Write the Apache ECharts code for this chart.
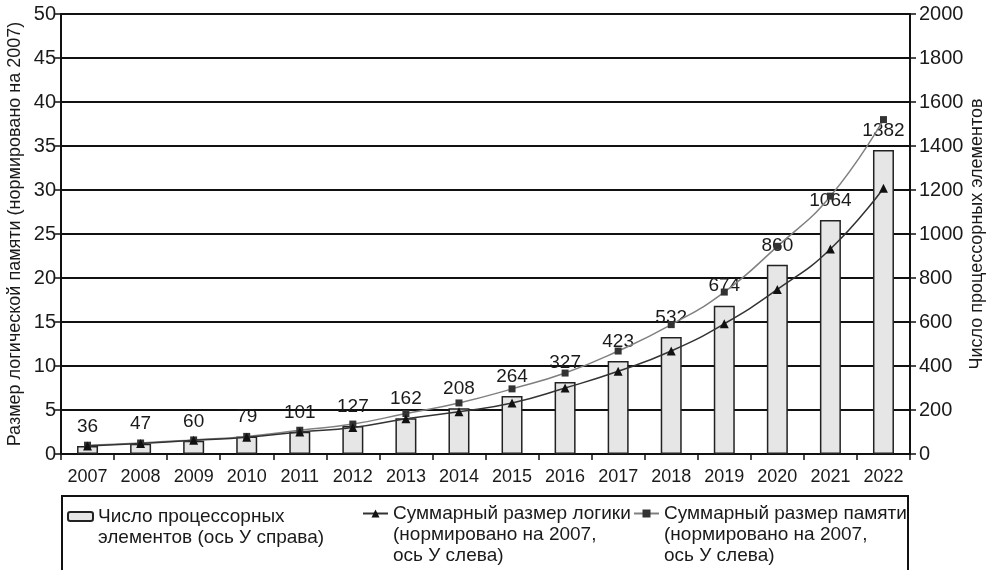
<!DOCTYPE html>
<html>
<head>
<meta charset="utf-8">
<script src="https://cdn.jsdelivr.net/npm/echarts@6/dist/echarts.min.js"></script>
<style>html,body{margin:0;padding:0;background:#fff}#c{width:991px;height:570px}</style>
</head>
<body>
<div id="c"></div>
<script>
const years = ['2007','2008','2009','2010','2011','2012','2013','2014','2015','2016','2017','2018','2019','2020','2021','2022'];
const processors = [36,47,60,79,101,127,162,208,264,327,423,532,674,860,1064,1382];
const logicSize = [0.9,1.2,1.55,1.9,2.5,3.0,4.0,4.8,5.8,7.5,9.4,11.7,14.8,18.7,23.3,30.2];
const memorySize = [1.0,1.25,1.6,2.0,2.7,3.4,4.6,5.8,7.4,9.2,11.7,14.7,18.4,23.6,29.3,38.0];
const leftTicks = [0,50,5];
const rightTicks = [0,2000,200];
const names = ['Число процессорных\nэлементов (ось У справа)','Суммарный размер логики\n(нормировано на 2007,\nось У слева)','Суммарный размер памяти\n(нормировано на 2007,\nось У слева)'];

const FONT = "'Liberation Sans', Arial, sans-serif";
const chart = echarts.init(document.getElementById('c'));
const legendText = {fontFamily: FONT, fontSize: 19, color: '#1a1a1a', lineHeight: 21};
// pad the text with leading blank lines so the legend icon sits level with the first text line
const alignFirstLine = name => '\n'.repeat(name.split('\n').length - 1) + name;
chart.setOption({
  animation: false,
  backgroundColor: '#fff',
  textStyle: {fontFamily: FONT},
  grid: {left: 61, right: 81, top: 14, bottom: 116, outerBoundsMode: 'none', containLabel: false},
  graphic: [{type: 'rect', shape: {x: 62, y: 496, width: 846, height: 100}, style: {fill: 'none', stroke: '#111', lineWidth: 2}, silent: true}],
  legend: [
    {data: [names[0]], left: 67, top: 485, itemWidth: 25, itemHeight: 9, itemGap: 5, textStyle: legendText, padding: 0, formatter: alignFirstLine},
    {data: [names[1]], left: 362, top: 461, itemWidth: 25, itemHeight: 10, textStyle: legendText, padding: 0, formatter: alignFirstLine},
    {data: [names[2]], left: 633, top: 461, itemWidth: 25, itemHeight: 10, textStyle: legendText, padding: 0, formatter: alignFirstLine}
  ],
  xAxis: {
    type: 'category', data: years,
    axisLine: {lineStyle: {color: '#111', width: 2}},
    axisTick: {show: true, length: 6, lineStyle: {color: '#111', width: 1.5}},
    axisLabel: {fontSize: 18, color: '#1a1a1a', margin: 14, fontFamily: FONT}
  },
  yAxis: [
    {
      type: 'value', min: leftTicks[0], max: leftTicks[1], interval: leftTicks[2],
      name: 'Размер логической памяти (нормировано на 2007)', nameLocation: 'middle', nameGap: 37, nameMoveOverlap: false,
      nameTextStyle: {fontSize: 18, color: '#1a1a1a', fontFamily: FONT},
      axisLine: {show: true, lineStyle: {color: '#111', width: 2}},
      axisTick: {show: true, length: 6, lineStyle: {color: '#111', width: 1.5}},
      axisLabel: {fontSize: 20, color: '#1a1a1a', margin: 5, fontFamily: FONT},
      splitLine: {show: true, lineStyle: {color: '#111', width: 2}}
    },
    {
      type: 'value', min: rightTicks[0], max: rightTicks[1], interval: rightTicks[2], position: 'right',
      name: 'Число процессорных элементов', nameLocation: 'middle', nameGap: 58, nameMoveOverlap: false,
      nameTextStyle: {fontSize: 18, color: '#1a1a1a', fontFamily: FONT},
      axisLine: {show: true, lineStyle: {color: '#111', width: 2}},
      axisTick: {show: true, length: 6, lineStyle: {color: '#111', width: 1.5}},
      axisLabel: {fontSize: 20, color: '#1a1a1a', margin: 9, fontFamily: FONT, formatter: v => String(v)},
      splitLine: {show: false}
    }
  ],
  series: [
    {
      name: names[0], type: 'bar', yAxisIndex: 1, data: processors, barWidth: 21,
      itemStyle: {color: '#e6e6e6', borderColor: '#222', borderWidth: 1.5},
      label: {show: true, position: 'top', distance: 10, fontSize: 19, color: '#1a1a1a', fontFamily: FONT},
      z: 2
    },
    {
      name: names[1], type: 'line', yAxisIndex: 0, data: logicSize, smooth: true,
      symbol: 'triangle', symbolSize: 9,
      itemStyle: {color: '#111'},
      lineStyle: {color: '#333', width: 1.5},
      z: 4
    },
    {
      name: names[2], type: 'line', yAxisIndex: 0, data: memorySize, smooth: true,
      symbol: 'rect', symbolSize: 7,
      itemStyle: {color: '#333'},
      lineStyle: {color: '#808080', width: 1.5},
      z: 3
    }
  ]
});
</script>
</body>
</html>
